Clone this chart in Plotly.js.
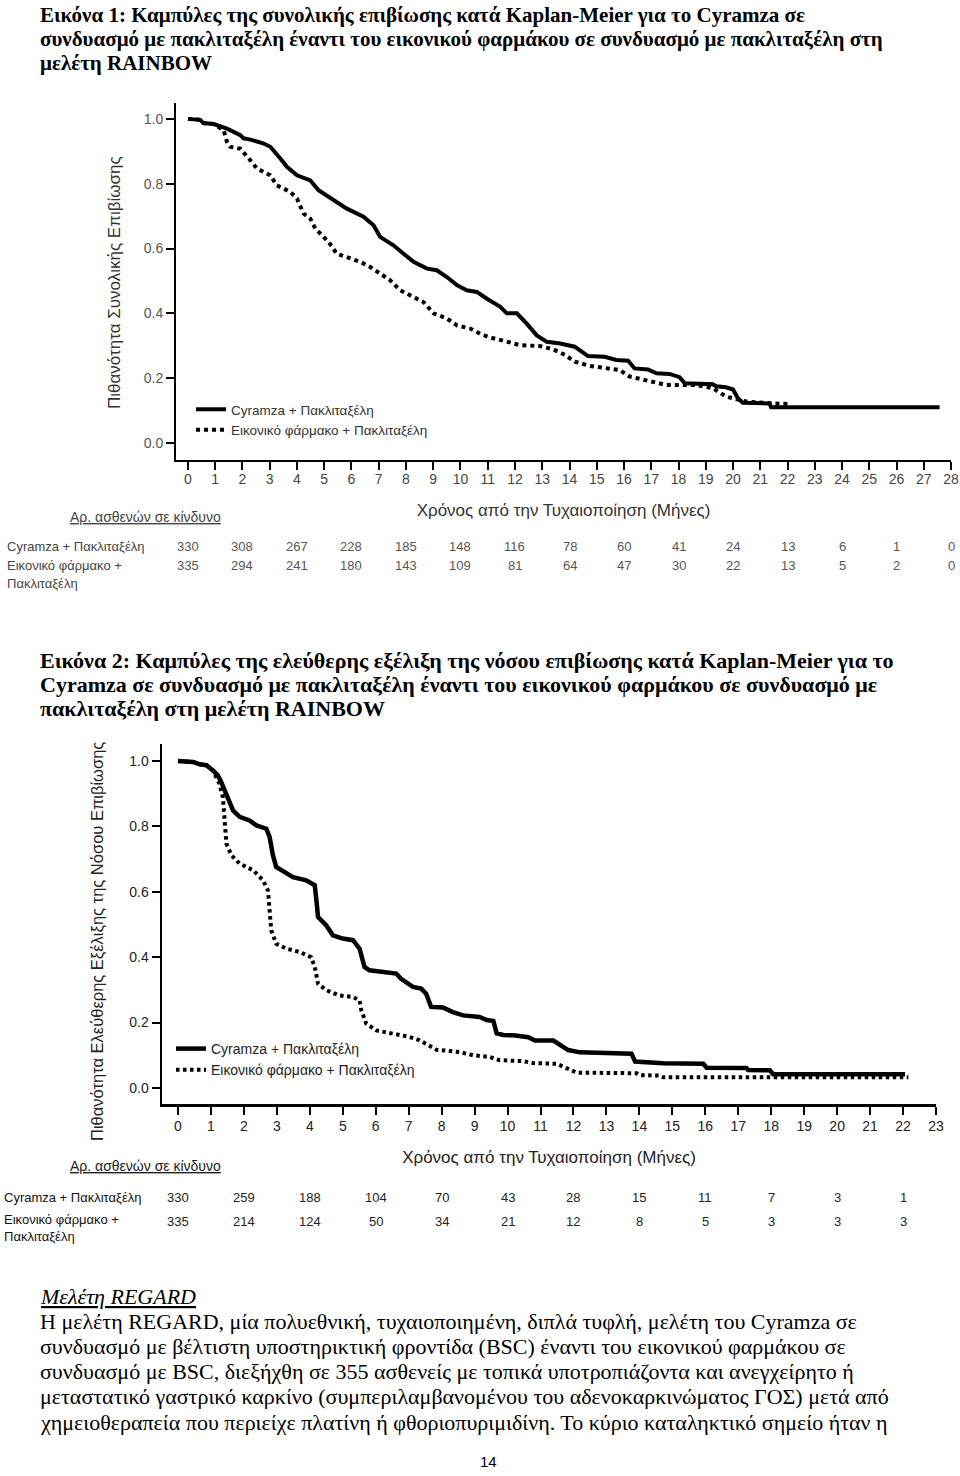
<!DOCTYPE html>
<html>
<head>
<meta charset="utf-8">
<script src="https://cdn.plot.ly/plotly-3.0.1.min.js"></script>
<style>html,body{margin:0;padding:0;background:#fff;}#chart{width:960px;height:1476px;}</style>
</head>
<body>
<div id="chart"></div>
<script>
// ---------- Figure 1: Overall survival (RAINBOW) ----------
const osCyrMonths = [0,0.45,0.57,0.94,1.43,1.92,2.04,2.29,2.78,3.02,3.39,3.63,4.0,4.49,4.79,5.34,5.83,6.44,6.81,7.05,7.54,7.91,8.28,8.77,9.13,9.5,9.87,10.23,10.6,10.97,11.46,11.7,12.07,12.43,12.8,13.17,13.66,14.19,14.68,15.29,15.72,16.15,16.39,16.88,17.19,17.67,18.04,18.23,19.26,19.38,19.75,20.0,20.18,20.36,21.34,21.4,27.58];
const osCyrSurv   = [1.0,0.997,0.987,0.984,0.970,0.95,0.94,0.936,0.924,0.914,0.878,0.852,0.826,0.81,0.78,0.749,0.723,0.698,0.672,0.636,0.61,0.584,0.559,0.538,0.533,0.512,0.487,0.471,0.466,0.445,0.42,0.40,0.40,0.368,0.332,0.312,0.307,0.297,0.268,0.266,0.256,0.254,0.23,0.227,0.215,0.213,0.203,0.184,0.181,0.175,0.172,0.165,0.138,0.124,0.122,0.110,0.110];
const osPboMonths = [0,0.45,0.57,0.94,1.31,1.43,1.55,1.92,2.29,2.53,3.02,3.26,3.75,4.0,4.24,4.49,4.67,4.85,5.16,5.46,5.83,6.32,6.69,7.05,7.42,7.79,8.15,8.64,9.01,9.5,9.87,10.36,10.72,11.07,11.69,12.17,12.91,13.4,13.83,14.19,14.74,15.35,15.84,16.21,16.82,17.55,18.65,19.26,19.75,20.49,21.46,22.13];
const osPboSurv   = [1.0,0.997,0.987,0.984,0.965,0.929,0.914,0.908,0.872,0.847,0.826,0.795,0.775,0.754,0.708,0.692,0.662,0.646,0.62,0.584,0.574,0.559,0.543,0.523,0.502,0.471,0.456,0.435,0.40,0.384,0.363,0.353,0.337,0.326,0.313,0.302,0.299,0.289,0.272,0.251,0.238,0.230,0.225,0.205,0.192,0.179,0.179,0.169,0.143,0.128,0.122,0.120];
const osRiskMonths = [0,2,4,6,8,10,12,14,16,18,20,22,24,26,28];
const osRiskCyr = [330,308,267,228,185,148,116,78,60,41,24,13,6,1,0];
const osRiskPbo = [335,294,241,180,143,109,81,64,47,30,22,13,5,2,0];
const osTicks = Array.from({length:29},(_,i)=>i);

// ---------- Figure 2: Progression-free survival ----------
const pfsCyrMonths = [0,0.46,0.66,0.86,1.06,1.21,1.31,1.42,1.52,1.67,1.87,2.17,2.38,2.68,2.78,2.88,2.98,3.24,3.49,3.89,4.15,4.2,4.25,4.5,4.7,5.0,5.31,5.51,5.66,5.81,6.12,6.62,6.77,7.13,7.38,7.53,7.68,8.04,8.34,8.65,9.15,9.37,9.57,9.67,9.87,10.17,10.63,10.83,11.39,11.54,11.84,12.2,13.21,13.76,13.87,14.72,15.94,16.04,17.25,17.3,17.96,18.06,22.06];
const pfsCyrSurv   = [1.0,0.997,0.99,0.987,0.971,0.956,0.936,0.91,0.88,0.849,0.829,0.818,0.803,0.793,0.768,0.712,0.676,0.661,0.645,0.635,0.62,0.574,0.523,0.497,0.467,0.457,0.452,0.426,0.37,0.36,0.355,0.35,0.334,0.309,0.304,0.288,0.248,0.246,0.232,0.222,0.217,0.208,0.205,0.167,0.162,0.161,0.155,0.145,0.145,0.135,0.116,0.109,0.106,0.105,0.081,0.076,0.074,0.062,0.061,0.055,0.054,0.042,0.042];
const pfsPboMonths = [0,0.46,0.66,0.86,1.06,1.26,1.36,1.42,1.47,1.62,1.87,2.28,2.58,2.73,2.78,2.83,2.98,3.29,3.69,4.04,4.15,4.25,4.5,4.9,5.31,5.51,5.56,5.71,6.02,6.52,7.03,7.33,7.63,7.84,8.54,8.95,9.45,9.76,10.47,10.78,11.49,11.8,12.1,13.92,14.02,14.63,14.73,22.16];
const pfsPboSurv   = [1.0,0.997,0.99,0.987,0.971,0.93,0.89,0.798,0.747,0.712,0.686,0.666,0.635,0.604,0.553,0.482,0.441,0.426,0.416,0.40,0.37,0.319,0.299,0.283,0.278,0.268,0.238,0.197,0.176,0.166,0.156,0.146,0.13,0.117,0.11,0.10,0.095,0.085,0.082,0.076,0.074,0.06,0.047,0.045,0.039,0.038,0.033,0.033];
const pfsRiskMonths = [0,2,4,6,8,10,12,14,16,18,20,22];
const pfsRiskCyr = [330,259,188,104,70,43,28,15,11,7,3,1];
const pfsRiskPbo = [335,214,124,50,34,21,12,8,5,3,3,3];
const pfsTicks = Array.from({length:24},(_,i)=>i);

const yTicks = [0,0.2,0.4,0.6,0.8,1.0];
const seriesNames = ['Cyramza + Πακλιταξέλη','Εικονικό φάρμακο + Πακλιταξέλη'];

// ---------- Text ----------
const title1Lines = [
 'Εικόνα 1: Καμπύλες της συνολικής επιβίωσης κατά Kaplan-Meier για το Cyramza σε',
 'συνδυασμό με πακλιταξέλη έναντι του εικονικού φαρμάκου σε συνδυασμό με πακλιταξέλη στη',
 'μελέτη RAINBOW'];
const title2Lines = [
 'Εικόνα 2: Καμπύλες της ελεύθερης εξέλιξη της νόσου επιβίωσης κατά Kaplan-Meier για το',
 'Cyramza σε συνδυασμό με πακλιταξέλη έναντι του εικονικού φαρμάκου σε συνδυασμό με',
 'πακλιταξέλη στη μελέτη RAINBOW'];
const paraLines = [
 'Η μελέτη REGARD, μία πολυεθνική, τυχαιοποιημένη, διπλά τυφλή, μελέτη του Cyramza σε',
 'συνδυασμό με βέλτιστη υποστηρικτική φροντίδα (BSC) έναντι του εικονικού φαρμάκου σε',
 'συνδυασμό με BSC, διεξήχθη σε 355 ασθενείς με τοπικά υποτροπιάζοντα και ανεγχείρητο ή',
 'μεταστατικό γαστρικό καρκίνο (συμπεριλαμβανομένου του αδενοκαρκινώματος ΓΟΣ) μετά από',
 'χημειοθεραπεία που περιείχε πλατίνη ή φθοριοπυριμιδίνη. Το κύριο καταληκτικό σημείο ήταν η'];

const W = 960, H = 1476;
const px = x => x / W;
const py = y => 1 - y / H;
const SANS = 'Liberation Sans, Arial, sans-serif';
const SERIF = 'Liberation Serif, Times New Roman, serif';

const traces = [
 {x: osCyrMonths, y: osCyrSurv, name: seriesNames[0], mode:'lines', line:{color:'#000', width:4, shape:'linear'}, xaxis:'x', yaxis:'y', legend:'legend'},
 {x: osPboMonths, y: osPboSurv, name: seriesNames[1], mode:'lines', line:{color:'#000', width:4, dash:'4px,4px', shape:'linear'}, xaxis:'x', yaxis:'y', legend:'legend'},
 {x: pfsCyrMonths, y: pfsCyrSurv, name: seriesNames[0], mode:'lines', line:{color:'#000', width:4.5, shape:'linear'}, xaxis:'x2', yaxis:'y2', legend:'legend2'},
 {x: pfsPboMonths, y: pfsPboSurv, name: seriesNames[1], mode:'lines', line:{color:'#000', width:4, dash:'3.5px,3.5px', shape:'linear'}, xaxis:'x2', yaxis:'y2', legend:'legend2'}
];

const ann = [];
function addText(text, x, y, opts) {
  ann.push(Object.assign({text, x, y, xref:'paper', yref:'paper', showarrow:false, xanchor:'left', yanchor:'middle'}, opts||{}));
}
const title1Font = {family:SERIF, size:21, color:'#000'};
const title2Font = {family:SERIF, size:22, color:'#000'};
title1Lines.forEach((t,i)=>addText('<b>'+t+'</b>', px(38), py(15+24*i), {font:title1Font}));
title2Lines.forEach((t,i)=>addText('<b>'+t+'</b>', px(38), py(660+24*i), {font:title2Font}));
addText('<i><u>Μελέτη REGARD</u></i>', px(38), py(1296), {font:{family:SERIF, size:22, color:'#000'}});
paraLines.forEach((t,i)=>addText(t, px(38), py(1321+25.3*i), {font:{family:SERIF, size:22, color:'#000'}}));
addText('14', px(488), py(1461), {xanchor:'center', font:{family:SANS, size:15, color:'#000'}});

// y-axis titles (rotated)
addText('Πιθανότητα Συνολικής Επιβίωσης', px(115), py(283), {xanchor:'center', textangle:-90, font:{family:SANS, size:17, color:'#333'}});
addText('Πιθανότητα Ελεύθερης Εξέλιξης της Νόσου Επιβίωσης', px(97), py(942), {xanchor:'center', textangle:-90, font:{family:SANS, size:16.5, color:'#222'}});

// at-risk blocks
const riskFont1 = {family:SANS, size:13, color:'#555'};
const riskFont2 = {family:SANS, size:13, color:'#222'};
addText('<u>Αρ. ασθενών σε κίνδυνο</u>', px(68), py(517), {font:{family:SANS, size:14, color:'#444'}});
addText('Cyramza + Πακλιταξέλη', px(5), py(547), {font:{family:SANS, size:13, color:'#444'}});
addText('Εικονικό φάρμακο +', px(5), py(566), {font:{family:SANS, size:13, color:'#444'}});
addText('Πακλιταξέλη', px(5), py(584), {font:{family:SANS, size:13, color:'#444'}});
osRiskMonths.forEach((m,i)=>{
  ann.push({text:String(osRiskCyr[i]), x:m, xref:'x', y:py(547), yref:'paper', showarrow:false, xanchor:'center', yanchor:'middle', font:riskFont1});
  ann.push({text:String(osRiskPbo[i]), x:m, xref:'x', y:py(566), yref:'paper', showarrow:false, xanchor:'center', yanchor:'middle', font:riskFont1});
});
addText('<u>Αρ. ασθενών σε κίνδυνο</u>', px(68), py(1166), {font:{family:SANS, size:14, color:'#222'}});
addText('Cyramza + Πακλιταξέλη', px(2), py(1197), {font:{family:SANS, size:13, color:'#111'}});
addText('Εικονικό φάρμακο +', px(2), py(1219), {font:{family:SANS, size:13, color:'#111'}});
addText('Πακλιταξέλη', px(2), py(1236), {font:{family:SANS, size:13, color:'#111'}});
pfsRiskMonths.forEach((m,i)=>{
  ann.push({text:String(pfsRiskCyr[i]), x:m, xref:'x2', y:py(1197), yref:'paper', showarrow:false, xanchor:'center', yanchor:'middle', font:riskFont2});
  ann.push({text:String(pfsRiskPbo[i]), x:m, xref:'x2', y:py(1221), yref:'paper', showarrow:false, xanchor:'center', yanchor:'middle', font:riskFont2});
});

const axisBase = {showgrid:false, zeroline:false, showline:true, linecolor:'#000', linewidth:2, ticks:'outside', ticklen:8, tickwidth:2, tickcolor:'#000', fixedrange:true};

const layout = {
  width: W, height: H,
  margin:{l:0,r:0,t:0,b:0},
  paper_bgcolor:'#fff', plot_bgcolor:'#fff',
  font:{family:SANS},
  showlegend:true,
  xaxis: Object.assign({}, axisBase, {
    domain:[px(176), px(951)], range:[-0.44, 28], tickvals: osTicks, anchor:'y',
    tickfont:{family:SANS, size:14, color:'#444'}, ticklabelstandoff:-3,
    title:{text:'Χρόνος από την Τυχαιοποίηση (Μήνες)', font:{family:SANS, size:17, color:'#333'}, standoff:18}
  }),
  yaxis: Object.assign({}, axisBase, {
    domain:[py(460), py(103)], range:[-0.0525, 1.049], tickvals: yTicks, tickformat:'.1f', anchor:'x',
    tickfont:{family:SANS, size:14, color:'#555'}
  }),
  xaxis2: Object.assign({}, axisBase, {
    domain:[px(162), px(936)], range:[-0.485, 23], tickvals: pfsTicks, anchor:'y2', linewidth:2.5,
    tickfont:{family:SANS, size:14, color:'#222'},
    title:{text:'Χρόνος από την Τυχαιοποίηση (Μήνες)', font:{family:SANS, size:17, color:'#222'}, standoff:18}
  }),
  yaxis2: Object.assign({}, axisBase, {
    domain:[py(1104), py(744)], range:[-0.049, 1.052], tickvals: yTicks, tickformat:'.1f', anchor:'x2', linewidth:2.5,
    tickfont:{family:SANS, size:14, color:'#222'}
  }),
  legend:{x:px(191), y:py(394), xanchor:'left', yanchor:'top', bgcolor:'rgba(0,0,0,0)', borderwidth:0, font:{family:SANS, size:13.5, color:'#333'}, itemwidth:30, tracegroupgap:0},
  legend2:{x:px(171), y:py(1033), xanchor:'left', yanchor:'top', bgcolor:'rgba(0,0,0,0)', borderwidth:0, font:{family:SANS, size:14, color:'#222'}, itemwidth:30, tracegroupgap:0},
  annotations: ann
};

Plotly.newPlot('chart', traces, layout, {displayModeBar:false, staticPlot:true});
</script>
</body>
</html>
